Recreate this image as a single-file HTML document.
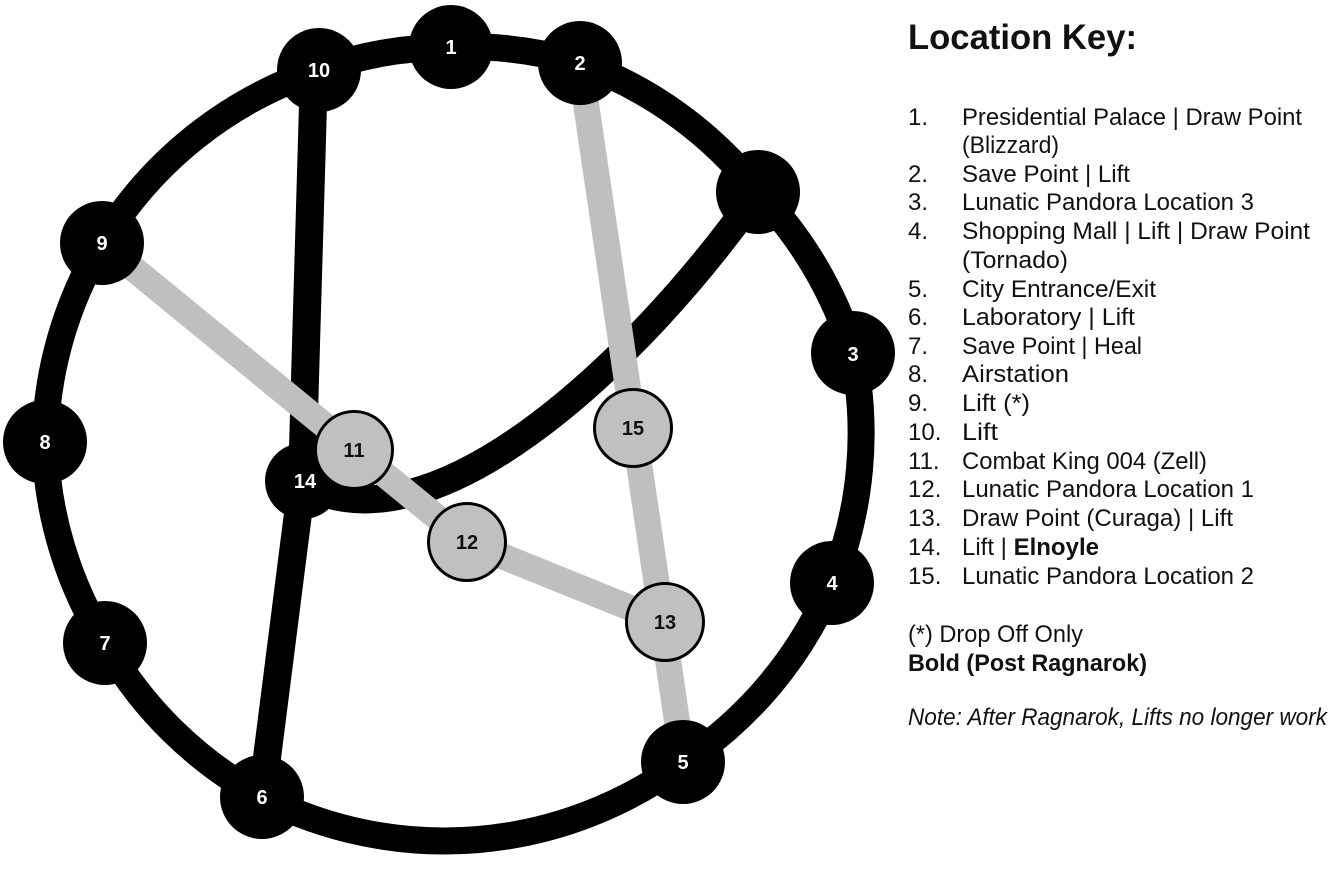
<!DOCTYPE html>
<html>
<head>
<meta charset="utf-8">
<style>
  html, body { margin: 0; padding: 0; background: #ffffff; }
  svg { display: block; }
  .k { font-family: "Liberation Sans", "DejaVu Sans", sans-serif; font-size: 24px; fill: #111; }
  .title { font-family: "Liberation Sans", "DejaVu Sans", sans-serif; font-size: 35px; font-weight: bold; fill: #111; }
  .nl { font-family: "Liberation Sans", sans-serif; font-size: 20px; font-weight: bold; fill: #fff; text-anchor: middle; }
  .gl { font-family: "Liberation Sans", sans-serif; font-size: 20px; font-weight: bold; fill: #111; text-anchor: middle; }
</style>
</head>
<body>
<svg width="1331" height="870" viewBox="0 0 1331 870" xmlns="http://www.w3.org/2000/svg">
  <rect width="1331" height="870" fill="#fff"/>

  <!-- outer ring -->
  <path d="M451,47 A400,400 0 0 1 580,63 A400,400 0 0 1 758,192 A400,400 0 0 1 853,353 A400,400 0 0 1 832,583 A400,400 0 0 1 683,762 A400,400 0 0 1 262,797 A400,400 0 0 1 105,643 A400,400 0 0 1 45,442 A400,400 0 0 1 102,243 A400,400 0 0 1 319,70 A400,400 0 0 1 451,47 Z"
        fill="none" stroke="#000" stroke-width="27" stroke-linejoin="round"/>

  <!-- inner black connections -->
  <path d="M314,70 L302,482 L262,797" fill="none" stroke="#000" stroke-width="28" stroke-linejoin="round"/>
  <path d="M758,192 C640,360 430,560 300,482" fill="none" stroke="#000" stroke-width="28"/>

  <!-- gray connections -->
  <g stroke="#bfbfbf" stroke-width="26" fill="none">
    <line x1="102" y1="243" x2="467" y2="542"/>
    <line x1="467" y1="542" x2="665" y2="622"/>
    <line x1="580" y1="63" x2="683" y2="762"/>
  </g>

  <!-- black nodes -->
  <g fill="#000">
    <circle cx="451" cy="47" r="42"/>
    <circle cx="580" cy="63" r="42"/>
    <circle cx="758" cy="192" r="42"/>
    <circle cx="853" cy="353" r="42"/>
    <circle cx="832" cy="583" r="42"/>
    <circle cx="683" cy="762" r="42"/>
    <circle cx="262" cy="797" r="42"/>
    <circle cx="105" cy="643" r="42"/>
    <circle cx="45" cy="442" r="42"/>
    <circle cx="102" cy="243" r="42"/>
    <circle cx="319" cy="70" r="42"/>
    <circle cx="303" cy="481" r="38"/>
  </g>
  <text class="nl" x="451" y="54">1</text>
  <text class="nl" x="580" y="70">2</text>
  <text class="nl" x="853" y="361">3</text>
  <text class="nl" x="832" y="590">4</text>
  <text class="nl" x="683" y="769">5</text>
  <text class="nl" x="262" y="804">6</text>
  <text class="nl" x="105" y="650">7</text>
  <text class="nl" x="45" y="449">8</text>
  <text class="nl" x="102" y="250">9</text>
  <text class="nl" x="319" y="77">10</text>
  <text class="nl" x="305" y="488">14</text>

  <!-- gray nodes -->
  <g fill="#c0c0c0" stroke="#000" stroke-width="3">
    <circle cx="354" cy="450" r="38.5"/>
    <circle cx="467" cy="542" r="38.5"/>
    <circle cx="665" cy="622" r="38.5"/>
    <circle cx="633" cy="428" r="38.5"/>
  </g>
  <text class="gl" x="354" y="457">11</text>
  <text class="gl" x="467" y="549">12</text>
  <text class="gl" x="665" y="629">13</text>
  <text class="gl" x="633" y="435">15</text>

  <!-- key -->
  <text class="title" x="908" y="49" textLength="229" lengthAdjust="spacingAndGlyphs">Location Key:</text>

  <g class="k">
    <text x="908" y="125">1.</text>
    <text x="962" y="125" textLength="340" lengthAdjust="spacingAndGlyphs">Presidential Palace | Draw Point</text>
    <text x="962" y="153" textLength="97" lengthAdjust="spacingAndGlyphs">(Blizzard)</text>
    <text x="908" y="182">2.</text>
    <text x="962" y="182" textLength="168" lengthAdjust="spacingAndGlyphs">Save Point | Lift</text>
    <text x="908" y="210">3.</text>
    <text x="962" y="210" textLength="292" lengthAdjust="spacingAndGlyphs">Lunatic Pandora Location 3</text>
    <text x="908" y="239">4.</text>
    <text x="962" y="239" textLength="348" lengthAdjust="spacingAndGlyphs">Shopping Mall | Lift | Draw Point</text>
    <text x="962" y="268" textLength="106" lengthAdjust="spacingAndGlyphs">(Tornado)</text>
    <text x="908" y="297">5.</text>
    <text x="962" y="297" textLength="194" lengthAdjust="spacingAndGlyphs">City Entrance/Exit</text>
    <text x="908" y="325">6.</text>
    <text x="962" y="325" textLength="173" lengthAdjust="spacingAndGlyphs">Laboratory | Lift</text>
    <text x="908" y="354">7.</text>
    <text x="962" y="354" textLength="180" lengthAdjust="spacingAndGlyphs">Save Point | Heal</text>
    <text x="908" y="382">8.</text>
    <text x="962" y="382" textLength="107" lengthAdjust="spacingAndGlyphs">Airstation</text>
    <text x="908" y="411">9.</text>
    <text x="962" y="411" textLength="68" lengthAdjust="spacingAndGlyphs">Lift (*)</text>
    <text x="908" y="440">10.</text>
    <text x="962" y="440" textLength="36" lengthAdjust="spacingAndGlyphs">Lift</text>
    <text x="908" y="469">11.</text>
    <text x="962" y="469" textLength="245" lengthAdjust="spacingAndGlyphs">Combat King 004 (Zell)</text>
    <text x="908" y="497">12.</text>
    <text x="962" y="497" textLength="292" lengthAdjust="spacingAndGlyphs">Lunatic Pandora Location 1</text>
    <text x="908" y="526">13.</text>
    <text x="962" y="526" textLength="271" lengthAdjust="spacingAndGlyphs">Draw Point (Curaga) | Lift</text>
    <text x="908" y="555">14.</text>
    <text x="962" y="555">Lift | <tspan font-weight="bold">Elnoyle</tspan></text>
    <text x="908" y="584">15.</text>
    <text x="962" y="584" textLength="292" lengthAdjust="spacingAndGlyphs">Lunatic Pandora Location 2</text>

    <text x="908" y="642" textLength="175" lengthAdjust="spacingAndGlyphs">(*) Drop Off Only</text>
    <text x="908" y="671" font-weight="bold" textLength="239" lengthAdjust="spacingAndGlyphs">Bold (Post Ragnarok)</text>
    <text x="908" y="725" font-style="italic" textLength="419" lengthAdjust="spacingAndGlyphs">Note: After Ragnarok, Lifts no longer work</text>
  </g>
</svg>
</body>
</html>
